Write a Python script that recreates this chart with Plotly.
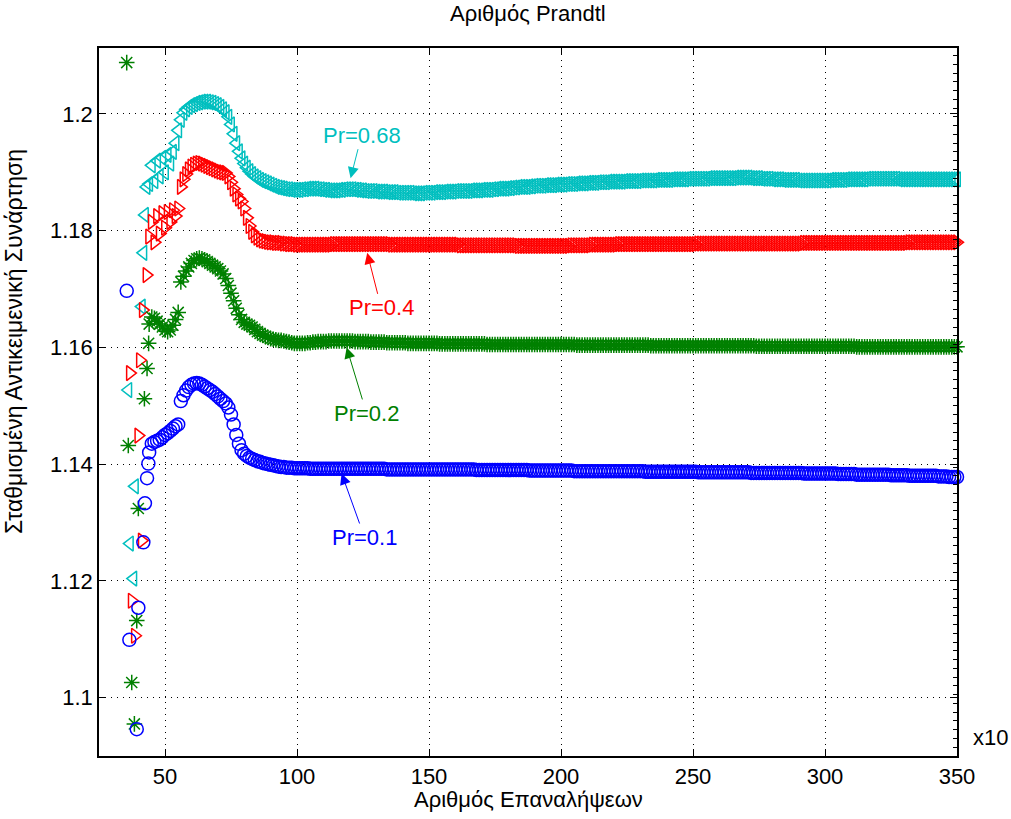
import plotly.graph_objects as go

# ---------------- data ----------------
# x in units of 10 iterations
early_x_c = [36.1, 36.7, 38.0, 38.6, 41.2, 41.8, 42.4, 43.0]
early_y_c = [1.1527, 1.1264, 1.1204, 1.1362, 1.1670, 1.1762, 1.1827, 1.1875]
early_x_r = [36.7, 37.4, 38.6, 39.9, 40.5, 41.2, 41.6, 43.0]
early_y_r = [1.1556, 1.1166, 1.1106, 1.1449, 1.1578, 1.1269, 1.1664, 1.1724]
early_x_g = [35.5, 36.1, 37.4, 38.4, 39.3, 39.9, 42.2, 43.2, 43.8]
early_y_g = [1.2088, 1.1432, 1.1026, 1.0955, 1.1132, 1.1324, 1.1512, 1.1564, 1.1607]
early_x_b = [35.5, 36.5, 39.3, 39.9, 41.8, 42.4, 43.2, 43.7]
early_y_b = [1.1697, 1.1099, 1.0946, 1.1154, 1.1266, 1.1333, 1.1376, 1.1401]

# transient part, x = 44 .. 99
trans_x = list(range(44, 100))
trans_c = [1.1880, 1.1912, 1.1885, 1.1920, 1.1893, 1.1925, 1.1900, 1.1930, 1.1915, 1.1935, 1.1950, 1.1972,
           1.1990, 1.2002, 1.2008, 1.2012, 1.2015, 1.2017, 1.2019, 1.2020, 1.2021, 1.2021, 1.2021, 1.2020,
           1.2019, 1.2017, 1.2015, 1.2012, 1.2008, 1.2003,
           1.1995, 1.1982, 1.1966, 1.1950, 1.1936, 1.1924, 1.1915, 1.1908, 1.1902, 1.1897, 1.1893, 1.1890,
           1.1887, 1.1885, 1.1883, 1.1881, 1.1879, 1.1877, 1.1875, 1.1874, 1.1873, 1.1872, 1.1871, 1.1871,
           1.1870, 1.1870]
trans_r = [1.1790, 1.1815, 1.1780, 1.1825, 1.1795, 1.1830, 1.1805, 1.1832, 1.1815, 1.1835, 1.1825, 1.1838,
           1.1875, 1.1888, 1.1897, 1.1905, 1.1910, 1.1913, 1.1915, 1.1916, 1.1915, 1.1913, 1.1911, 1.1909,
           1.1907, 1.1905, 1.1903, 1.1901, 1.1900, 1.1899,
           1.1893, 1.1883, 1.1872, 1.1862, 1.1855, 1.1850, 1.1838, 1.1822, 1.1808, 1.1798, 1.1792, 1.1788,
           1.1785, 1.1783, 1.1782, 1.1781, 1.1780, 1.1780, 1.1779, 1.1779, 1.1779, 1.1778, 1.1778, 1.1777,
           1.1777, 1.1777]
trans_g = [1.1640, 1.1652, 1.1650, 1.1645, 1.1640, 1.1635, 1.1630, 1.1627, 1.1630, 1.1638, 1.1648, 1.1660,
           1.1712, 1.1722, 1.1731, 1.1738, 1.1744, 1.1749, 1.1752, 1.1753, 1.1752, 1.1750, 1.1747, 1.1744,
           1.1741, 1.1738, 1.1735, 1.1731, 1.1726, 1.1718,
           1.1706, 1.1693, 1.1680, 1.1667, 1.1656, 1.1648, 1.1643, 1.1640, 1.1638, 1.1635, 1.1631, 1.1627,
           1.1624, 1.1621, 1.1619, 1.1617, 1.1615, 1.1614, 1.1613, 1.1612, 1.1612, 1.1611, 1.1610, 1.1609,
           1.1608, 1.1607]
trans_b = [1.1420, 1.1435, 1.1438, 1.1440, 1.1442, 1.1446, 1.1450, 1.1453, 1.1457, 1.1461, 1.1465, 1.1468,
           1.1508, 1.1518, 1.1526, 1.1532, 1.1536, 1.1538, 1.1539, 1.1538, 1.1536, 1.1533, 1.1530, 1.1527,
           1.1524, 1.1520, 1.1516, 1.1512, 1.1508, 1.1504,
           1.1497, 1.1485, 1.1468, 1.1450, 1.1435, 1.1424, 1.1418, 1.1414, 1.1411, 1.1409, 1.1407, 1.1405,
           1.1404, 1.1402, 1.1401, 1.1400, 1.1399, 1.1398, 1.1397, 1.1396, 1.1395, 1.1395, 1.1394, 1.1394,
           1.1394, 1.1393]

# settled part, x = 100 .. 350
flat_x = list(range(100, 351))
flat_c = [
    1.1870, 1.1870, 1.1871, 1.1871, 1.1872, 1.1872, 1.1872, 1.1872, 1.1871, 1.1871,
    1.1870, 1.1870, 1.1869, 1.1869, 1.1869, 1.1869, 1.1870, 1.1870, 1.1871, 1.1871,
    1.1871, 1.1871, 1.1870, 1.1870, 1.1869, 1.1869, 1.1868, 1.1868, 1.1868, 1.1868,
    1.1867, 1.1867, 1.1867, 1.1867, 1.1866, 1.1866, 1.1866, 1.1866, 1.1865, 1.1865,
    1.1865, 1.1865, 1.1865, 1.1865, 1.1864, 1.1864, 1.1864, 1.1864, 1.1865, 1.1865,
    1.1865, 1.1865, 1.1866, 1.1866, 1.1866, 1.1866, 1.1867, 1.1867, 1.1867, 1.1867,
    1.1868, 1.1868, 1.1868, 1.1868, 1.1868, 1.1868, 1.1869, 1.1869, 1.1869, 1.1869,
    1.1870, 1.1870, 1.1870, 1.1870, 1.1871, 1.1871, 1.1872, 1.1872, 1.1872, 1.1872,
    1.1873, 1.1873, 1.1874, 1.1874, 1.1875, 1.1875, 1.1875, 1.1875, 1.1876, 1.1876,
    1.1877, 1.1877, 1.1877, 1.1877, 1.1878, 1.1878, 1.1878, 1.1878, 1.1879, 1.1879,
    1.1879, 1.1879, 1.1880, 1.1880, 1.1880, 1.1880, 1.1881, 1.1881, 1.1881, 1.1881,
    1.1882, 1.1882, 1.1882, 1.1882, 1.1883, 1.1883, 1.1883, 1.1883, 1.1884, 1.1884,
    1.1884, 1.1884, 1.1884, 1.1884, 1.1885, 1.1885, 1.1885, 1.1885, 1.1885, 1.1885,
    1.1886, 1.1886, 1.1886, 1.1886, 1.1886, 1.1886, 1.1887, 1.1887, 1.1887, 1.1887,
    1.1887, 1.1887, 1.1888, 1.1888, 1.1888, 1.1888, 1.1888, 1.1888, 1.1889, 1.1889,
    1.1889, 1.1889, 1.1889, 1.1889, 1.1889, 1.1889, 1.1890, 1.1890, 1.1890, 1.1890,
    1.1890, 1.1890, 1.1890, 1.1890, 1.1890, 1.1890, 1.1891, 1.1891, 1.1891, 1.1891,
    1.1891, 1.1891, 1.1890, 1.1890, 1.1890, 1.1890, 1.1889, 1.1889, 1.1889, 1.1889,
    1.1888, 1.1888, 1.1888, 1.1888, 1.1887, 1.1887, 1.1887, 1.1887, 1.1887, 1.1887,
    1.1886, 1.1886, 1.1886, 1.1886, 1.1886, 1.1886, 1.1886, 1.1886, 1.1886, 1.1886,
    1.1886, 1.1886, 1.1887, 1.1887, 1.1887, 1.1887, 1.1887, 1.1887, 1.1888, 1.1888,
    1.1888, 1.1888, 1.1888, 1.1888, 1.1888, 1.1888, 1.1889, 1.1889, 1.1889, 1.1889,
    1.1889, 1.1889, 1.1889, 1.1889, 1.1889, 1.1889, 1.1889, 1.1889, 1.1888, 1.1888,
    1.1888, 1.1888, 1.1888, 1.1888, 1.1888, 1.1888, 1.1888, 1.1888, 1.1888, 1.1888,
    1.1888, 1.1888, 1.1888, 1.1888, 1.1888, 1.1888, 1.1888, 1.1888, 1.1888, 1.1888,
    1.1888]
flat_r = [
    1.1776, 1.1776, 1.1776, 1.1776, 1.1776, 1.1776, 1.1776, 1.1776, 1.1776, 1.1776,
    1.1776, 1.1776, 1.1776, 1.1776, 1.1777, 1.1777, 1.1777, 1.1777, 1.1777, 1.1777,
    1.1777, 1.1777, 1.1777, 1.1777, 1.1777, 1.1777, 1.1777, 1.1777, 1.1777, 1.1777,
    1.1777, 1.1777, 1.1777, 1.1777, 1.1777, 1.1777, 1.1776, 1.1776, 1.1776, 1.1776,
    1.1776, 1.1776, 1.1776, 1.1776, 1.1776, 1.1776, 1.1776, 1.1776, 1.1776, 1.1776,
    1.1776, 1.1776, 1.1776, 1.1776, 1.1776, 1.1776, 1.1776, 1.1776, 1.1776, 1.1776,
    1.1776, 1.1776, 1.1775, 1.1775, 1.1775, 1.1775, 1.1775, 1.1775, 1.1775, 1.1775,
    1.1775, 1.1775, 1.1775, 1.1775, 1.1775, 1.1775, 1.1775, 1.1775, 1.1775, 1.1775,
    1.1775, 1.1775, 1.1775, 1.1775, 1.1774, 1.1774, 1.1774, 1.1774, 1.1774, 1.1774,
    1.1774, 1.1774, 1.1774, 1.1774, 1.1774, 1.1774, 1.1774, 1.1774, 1.1774, 1.1774,
    1.1774, 1.1774, 1.1774, 1.1774, 1.1775, 1.1775, 1.1775, 1.1775, 1.1775, 1.1775,
    1.1775, 1.1775, 1.1776, 1.1776, 1.1776, 1.1776, 1.1776, 1.1776, 1.1776, 1.1776,
    1.1776, 1.1776, 1.1777, 1.1777, 1.1777, 1.1777, 1.1777, 1.1777, 1.1777, 1.1777,
    1.1777, 1.1777, 1.1777, 1.1777, 1.1777, 1.1777, 1.1777, 1.1777, 1.1777, 1.1777,
    1.1777, 1.1777, 1.1777, 1.1777, 1.1777, 1.1777, 1.1777, 1.1777, 1.1777, 1.1777,
    1.1777, 1.1777, 1.1778, 1.1778, 1.1778, 1.1778, 1.1778, 1.1778, 1.1778, 1.1778,
    1.1778, 1.1778, 1.1778, 1.1778, 1.1778, 1.1778, 1.1778, 1.1778, 1.1778, 1.1778,
    1.1778, 1.1778, 1.1778, 1.1778, 1.1778, 1.1778, 1.1778, 1.1778, 1.1778, 1.1778,
    1.1778, 1.1778, 1.1778, 1.1778, 1.1778, 1.1778, 1.1778, 1.1778, 1.1778, 1.1778,
    1.1778, 1.1778, 1.1779, 1.1779, 1.1779, 1.1779, 1.1779, 1.1779, 1.1779, 1.1779,
    1.1779, 1.1779, 1.1779, 1.1779, 1.1779, 1.1779, 1.1779, 1.1779, 1.1779, 1.1779,
    1.1779, 1.1779, 1.1779, 1.1779, 1.1779, 1.1779, 1.1779, 1.1779, 1.1779, 1.1779,
    1.1779, 1.1779, 1.1779, 1.1779, 1.1779, 1.1779, 1.1779, 1.1779, 1.1779, 1.1779,
    1.1779, 1.1779, 1.1780, 1.1780, 1.1780, 1.1780, 1.1780, 1.1780, 1.1780, 1.1780,
    1.1780, 1.1780, 1.1780, 1.1780, 1.1780, 1.1780, 1.1780, 1.1780, 1.1780, 1.1780,
    1.1780]
flat_g = [
    1.1607, 1.1607, 1.1607, 1.1607, 1.1608, 1.1608, 1.1609, 1.1609, 1.1610, 1.1610,
    1.1610, 1.1610, 1.1611, 1.1611, 1.1611, 1.1611, 1.1611, 1.1611, 1.1611, 1.1611,
    1.1611, 1.1611, 1.1610, 1.1610, 1.1610, 1.1610, 1.1610, 1.1610, 1.1609, 1.1609,
    1.1609, 1.1609, 1.1609, 1.1609, 1.1608, 1.1608, 1.1608, 1.1608, 1.1608, 1.1608,
    1.1608, 1.1608, 1.1607, 1.1607, 1.1607, 1.1607, 1.1607, 1.1607, 1.1607, 1.1607,
    1.1607, 1.1607, 1.1607, 1.1607, 1.1606, 1.1606, 1.1606, 1.1606, 1.1606, 1.1606,
    1.1606, 1.1606, 1.1606, 1.1606, 1.1606, 1.1606, 1.1606, 1.1606, 1.1606, 1.1606,
    1.1606, 1.1606, 1.1605, 1.1605, 1.1605, 1.1605, 1.1605, 1.1605, 1.1605, 1.1605,
    1.1605, 1.1605, 1.1605, 1.1605, 1.1605, 1.1605, 1.1605, 1.1605, 1.1605, 1.1605,
    1.1605, 1.1605, 1.1605, 1.1605, 1.1605, 1.1605, 1.1605, 1.1605, 1.1605, 1.1605,
    1.1605, 1.1605, 1.1605, 1.1605, 1.1605, 1.1605, 1.1604, 1.1604, 1.1604, 1.1604,
    1.1604, 1.1604, 1.1604, 1.1604, 1.1604, 1.1604, 1.1604, 1.1604, 1.1604, 1.1604,
    1.1604, 1.1604, 1.1604, 1.1604, 1.1604, 1.1604, 1.1604, 1.1604, 1.1604, 1.1604,
    1.1604, 1.1604, 1.1604, 1.1604, 1.1603, 1.1603, 1.1603, 1.1603, 1.1603, 1.1603,
    1.1603, 1.1603, 1.1603, 1.1603, 1.1603, 1.1603, 1.1603, 1.1603, 1.1603, 1.1603,
    1.1603, 1.1603, 1.1603, 1.1603, 1.1603, 1.1603, 1.1603, 1.1603, 1.1603, 1.1603,
    1.1603, 1.1603, 1.1603, 1.1603, 1.1603, 1.1603, 1.1603, 1.1603, 1.1603, 1.1603,
    1.1603, 1.1603, 1.1603, 1.1603, 1.1602, 1.1602, 1.1602, 1.1602, 1.1602, 1.1602,
    1.1602, 1.1602, 1.1602, 1.1602, 1.1602, 1.1602, 1.1602, 1.1602, 1.1602, 1.1602,
    1.1602, 1.1602, 1.1602, 1.1602, 1.1602, 1.1602, 1.1602, 1.1602, 1.1602, 1.1602,
    1.1602, 1.1602, 1.1602, 1.1602, 1.1602, 1.1602, 1.1602, 1.1602, 1.1602, 1.1602,
    1.1602, 1.1602, 1.1601, 1.1601, 1.1601, 1.1601, 1.1601, 1.1601, 1.1601, 1.1601,
    1.1601, 1.1601, 1.1601, 1.1601, 1.1601, 1.1601, 1.1601, 1.1601, 1.1601, 1.1601,
    1.1601, 1.1601, 1.1601, 1.1601, 1.1601, 1.1601, 1.1601, 1.1601, 1.1601, 1.1601,
    1.1601, 1.1601, 1.1601, 1.1601, 1.1601, 1.1601, 1.1601, 1.1601, 1.1601, 1.1601,
    1.1601]
flat_b = [
    1.1393, 1.1393, 1.1393, 1.1393, 1.1393, 1.1392, 1.1392, 1.1392, 1.1392, 1.1392,
    1.1392, 1.1392, 1.1392, 1.1392, 1.1392, 1.1392, 1.1392, 1.1392, 1.1392, 1.1392,
    1.1392, 1.1392, 1.1392, 1.1392, 1.1392, 1.1392, 1.1392, 1.1392, 1.1392, 1.1392,
    1.1392, 1.1392, 1.1392, 1.1392, 1.1391, 1.1391, 1.1391, 1.1391, 1.1391, 1.1391,
    1.1391, 1.1391, 1.1391, 1.1391, 1.1391, 1.1391, 1.1391, 1.1391, 1.1391, 1.1391,
    1.1391, 1.1391, 1.1391, 1.1391, 1.1391, 1.1391, 1.1391, 1.1391, 1.1391, 1.1391,
    1.1391, 1.1391, 1.1391, 1.1391, 1.1391, 1.1391, 1.1391, 1.1391, 1.1390, 1.1390,
    1.1390, 1.1390, 1.1390, 1.1390, 1.1390, 1.1390, 1.1390, 1.1390, 1.1390, 1.1390,
    1.1390, 1.1390, 1.1390, 1.1390, 1.1390, 1.1390, 1.1390, 1.1390, 1.1389, 1.1389,
    1.1389, 1.1389, 1.1389, 1.1389, 1.1389, 1.1389, 1.1389, 1.1389, 1.1389, 1.1389,
    1.1389, 1.1389, 1.1389, 1.1389, 1.1389, 1.1388, 1.1388, 1.1388, 1.1388, 1.1388,
    1.1388, 1.1388, 1.1388, 1.1388, 1.1388, 1.1388, 1.1388, 1.1388, 1.1388, 1.1388,
    1.1388, 1.1388, 1.1388, 1.1388, 1.1388, 1.1388, 1.1388, 1.1388, 1.1388, 1.1388,
    1.1388, 1.1388, 1.1387, 1.1387, 1.1387, 1.1387, 1.1387, 1.1387, 1.1387, 1.1387,
    1.1387, 1.1387, 1.1387, 1.1387, 1.1387, 1.1387, 1.1387, 1.1387, 1.1387, 1.1387,
    1.1387, 1.1387, 1.1386, 1.1386, 1.1386, 1.1386, 1.1386, 1.1386, 1.1386, 1.1386,
    1.1386, 1.1386, 1.1386, 1.1386, 1.1386, 1.1386, 1.1386, 1.1386, 1.1386, 1.1386,
    1.1386, 1.1386, 1.1385, 1.1385, 1.1385, 1.1385, 1.1385, 1.1385, 1.1385, 1.1385,
    1.1385, 1.1385, 1.1385, 1.1385, 1.1385, 1.1385, 1.1385, 1.1385, 1.1385, 1.1385,
    1.1385, 1.1385, 1.1384, 1.1384, 1.1384, 1.1384, 1.1384, 1.1384, 1.1384, 1.1384,
    1.1384, 1.1384, 1.1384, 1.1384, 1.1384, 1.1383, 1.1383, 1.1383, 1.1383, 1.1383,
    1.1383, 1.1383, 1.1382, 1.1382, 1.1382, 1.1382, 1.1382, 1.1382, 1.1382, 1.1382,
    1.1382, 1.1382, 1.1382, 1.1382, 1.1382, 1.1381, 1.1381, 1.1381, 1.1381, 1.1381,
    1.1381, 1.1381, 1.1380, 1.1380, 1.1380, 1.1380, 1.1380, 1.1380, 1.1380, 1.1380,
    1.1380, 1.1380, 1.1380, 1.1379, 1.1379, 1.1379, 1.1379, 1.1378, 1.1378, 1.1378,
    1.1378]

for arr in (trans_c, trans_r, trans_g, trans_b):
    assert len(arr) == len(trans_x), len(arr)
for arr in (flat_c, flat_r, flat_g, flat_b):
    assert len(arr) == len(flat_x), len(arr)

series = [
    ("Pr=0.68", early_x_c, early_y_c, trans_c, flat_c, "#00BFBF", "triangle-left-open"),
    ("Pr=0.4", early_x_r, early_y_r, trans_r, flat_r, "#FF0000", "triangle-right-open"),
    ("Pr=0.2", early_x_g, early_y_g, trans_g, flat_g, "#008000", "asterisk-open"),
    ("Pr=0.1", early_x_b, early_y_b, trans_b, flat_b, "#0000FF", "circle-open"),
]

x_ticks = [50, 100, 150, 200, 250, 300, 350]
y_ticks = [1.1, 1.12, 1.14, 1.16, 1.18, 1.2]
y_ticktext = ["1.1", "1.12", "1.14", "1.16", "1.18", "1.2"]

# annotation arrow tips (data) and text offsets
labels = [
    ("Pr=0.68", 120.3, 1.1890, 11, -43, "#00BFBF"),
    ("Pr=0.4", 126.6, 1.1762, 14, 55, "#FF0000"),
    ("Pr=0.2", 118.8, 1.1600, 20, 66, "#008000"),
    ("Pr=0.1", 116.9, 1.1384, 23, 64, "#0000FF"),
]

FONT = "Liberation Sans, Arial, sans-serif"
FS = 22

fig = go.Figure()
for name, ex, ey, tr, fl, col, sym in series:
    fig.add_trace(go.Scatter(
        x=ex + trans_x + flat_x,
        y=ey + tr + fl,
        mode="markers",
        name=name,
        cliponaxis=False,
        marker=dict(symbol=sym, size=13, color=col, line=dict(color=col, width=1.5)),
        showlegend=False,
    ))
# invisible trace so that the right-hand minor tick axis gets drawn
fig.add_trace(go.Scatter(x=[200], y=[1.15], yaxis="y2", showlegend=False,
                         hoverinfo="skip", mode="markers", marker=dict(opacity=0)))

annotations = []
for txt, ax_, ay_, dx, dy, col in labels:
    annotations.append(dict(
        x=ax_, y=ay_, xref="x", yref="y", text=txt, showarrow=True,
        ax=dx, ay=dy, arrowhead=2, arrowsize=2.2, arrowwidth=1, arrowcolor=col,
        font=dict(family=FONT, size=FS, color=col),
    ))

annotations += [
    dict(text="Αριθμός Prandtl", x=0.5, y=1.0494, xref="paper", yref="paper",
         xanchor="center", yanchor="middle",
         showarrow=False, font=dict(family=FONT, size=FS, color="black")),
    dict(text="Αριθμός Επαναλήψεων", x=0.5, y=-0.0621, xref="paper", yref="paper",
         xanchor="center", yanchor="middle",
         showarrow=False, font=dict(family=FONT, size=FS, color="black")),
    dict(text="Σταθμισμένη Αντικειμενική Συνάρτηση", x=-0.099, y=0.585, xref="paper", yref="paper",
         xanchor="center", yanchor="middle",
         textangle=-90, showarrow=False, font=dict(family=FONT, size=23, color="black")),
    dict(text="x10", x=1.0385, y=0.0268, xref="paper", yref="paper",
         xanchor="center", yanchor="middle",
         showarrow=False, font=dict(family=FONT, size=FS, color="black")),
]

fig.update_layout(
    width=1011, height=819,
    margin=dict(l=99, r=54, t=48, b=63),
    paper_bgcolor="white", plot_bgcolor="white",
    font=dict(family=FONT, size=FS, color="black"),
    annotations=annotations,
    xaxis=dict(
        range=[25, 350], tickmode="array", tickvals=x_ticks,
        ticks="inside", ticklen=7, tickcolor="black", tickwidth=1,
        showline=True, linecolor="black", linewidth=1.5, mirror="ticks",
        showgrid=True, gridcolor="black", gridwidth=1, griddash="1px,5px",
        zeroline=False, tickfont=dict(family=FONT, size=FS, color="black"),
    ),
    yaxis=dict(
        range=[1.09, 1.2113], tickmode="array", tickvals=y_ticks, ticktext=y_ticktext,
        ticks="inside", ticklen=7, tickcolor="black", tickwidth=1,
        showline=True, linecolor="black", linewidth=1.5, mirror="ticks",
        showgrid=True, gridcolor="black", gridwidth=1, griddash="1px,5px",
        zeroline=False, tickfont=dict(family=FONT, size=FS, color="black"),
    ),
    yaxis2=dict(
        range=[1.09, 1.2113], overlaying="y", side="right", anchor="x",
        ticks="inside", ticklen=4, tickcolor="black", tickwidth=1,
        tickmode="linear", dtick=0.0015, tick0=1.09,
        showticklabels=False, showgrid=False, zeroline=False, showline=False,
    ),
)

fig.write_html("out.html")
